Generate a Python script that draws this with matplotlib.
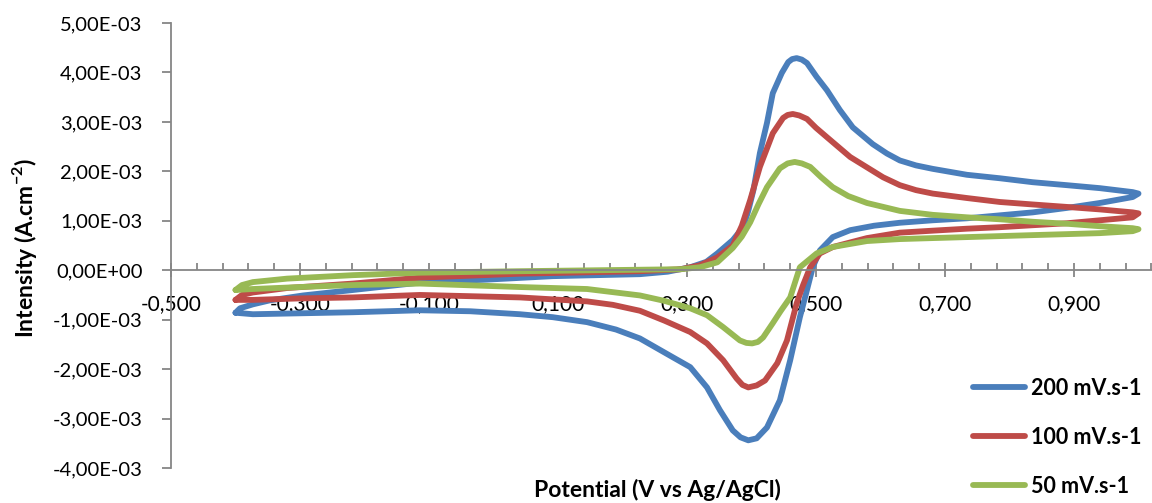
import numpy as np
import matplotlib
matplotlib.use("Agg")
import matplotlib.pyplot as plt
from matplotlib.ticker import MultipleLocator, FuncFormatter

plt.rcParams["font.family"] = ["Lato", "DejaVu Sans"]
plt.rcParams["mathtext.fontset"] = "custom"
plt.rcParams["mathtext.rm"] = "Lato"
plt.rcParams["mathtext.bf"] = "Lato:bold"

# ----- data: potential (V) / current density (mA.cm-2) -----
x_200 = [-0.400, -0.393, -0.373, -0.347, -0.295, -0.218, -0.114, -0.010, 0.092, 0.227, 0.270, 0.305,
         0.330, 0.347, 0.371, 0.387, 0.395, 0.403, 0.413, 0.424, 0.433, 0.447, 0.457, 0.463, 0.470,
         0.478, 0.486, 0.501, 0.517, 0.537, 0.557, 0.588, 0.610, 0.630, 0.655, 0.681, 0.734, 0.785,
         0.836, 0.889, 0.940, 0.991, 1.000,
         0.991, 0.940, 0.889, 0.836, 0.785, 0.734, 0.681, 0.630, 0.590, 0.553, 0.526, 0.506, 0.495,
         0.485, 0.475, 0.460, 0.444, 0.424, 0.408, 0.395, 0.383, 0.371, 0.351, 0.331, 0.305, 0.278,
         0.227, 0.190, 0.145, 0.092, 0.041, -0.036, -0.114, -0.218, -0.295, -0.373, -0.400]
y_200 = [-0.86, -0.77, -0.69, -0.61, -0.51, -0.40, -0.25, -0.19, -0.12, -0.08, -0.03, 0.06,
         0.17, 0.34, 0.61, 0.87, 1.20, 1.62, 2.37, 2.98, 3.58, 3.99, 4.21, 4.27, 4.29,
         4.26, 4.19, 3.91, 3.64, 3.24, 2.89, 2.55, 2.36, 2.22, 2.12, 2.05, 1.93, 1.86,
         1.78, 1.72, 1.66, 1.58, 1.55,
         1.48, 1.36, 1.26, 1.17, 1.11, 1.05, 1.01, 0.96, 0.90, 0.81, 0.67, 0.40, 0.06,
         -0.45, -0.95, -1.82, -2.63, -3.18, -3.40, -3.44, -3.38, -3.24, -2.83, -2.37, -1.96, -1.76,
         -1.38, -1.20, -1.05, -0.95, -0.89, -0.83, -0.81, -0.85, -0.87, -0.89, -0.86]

x_100 = [-0.400, -0.390, -0.373, -0.320, -0.218, -0.114, 0.041, 0.227, 0.290, 0.320, 0.347, 0.371,
         0.385, 0.398, 0.413, 0.433, 0.449, 0.456, 0.464, 0.474, 0.486, 0.500, 0.517, 0.553, 0.604,
         0.630, 0.655, 0.681, 0.734, 0.785, 0.836, 0.889, 0.940, 0.991, 1.000,
         0.991, 0.940, 0.889, 0.836, 0.785, 0.734, 0.681, 0.630, 0.579, 0.526, 0.506, 0.491, 0.480,
         0.470, 0.455, 0.440, 0.421, 0.408, 0.395, 0.386, 0.377, 0.356, 0.331, 0.305, 0.265, 0.227,
         0.185, 0.145, 0.041, -0.114, -0.218, -0.300, -0.373, -0.400]
y_100 = [-0.60, -0.50, -0.45, -0.36, -0.27, -0.15, -0.07, -0.02, 0.02, 0.10, 0.26, 0.50,
         0.90, 1.42, 2.09, 2.77, 3.08, 3.14, 3.16, 3.13, 3.06, 2.88, 2.69, 2.29, 1.88,
         1.72, 1.62, 1.55, 1.46, 1.38, 1.33, 1.28, 1.23, 1.17, 1.15,
         1.07, 1.01, 0.95, 0.91, 0.87, 0.84, 0.80, 0.76, 0.65, 0.47, 0.34, 0.06, -0.30,
         -0.67, -1.42, -1.88, -2.23, -2.33, -2.37, -2.32, -2.19, -1.82, -1.48, -1.25, -1.02, -0.82,
         -0.70, -0.63, -0.55, -0.50, -0.55, -0.57, -0.60, -0.60]

x_50 = [-0.400, -0.390, -0.373, -0.320, -0.218, -0.114, 0.041, 0.227, 0.290, 0.320, 0.347, 0.371,
        0.385, 0.398, 0.411, 0.424, 0.444, 0.456, 0.467, 0.478, 0.491, 0.508, 0.526, 0.550, 0.579,
        0.630, 0.681, 0.734, 0.785, 0.836, 0.889, 0.940, 0.991, 1.000,
        0.991, 0.940, 0.889, 0.836, 0.785, 0.734, 0.681, 0.630, 0.579, 0.526, 0.501, 0.475, 0.460,
        0.445, 0.433, 0.418, 0.410, 0.401, 0.392, 0.382, 0.356, 0.331, 0.305, 0.265, 0.227, 0.145,
        0.041, -0.114, -0.218, -0.300, -0.373, -0.400]
y_50 = [-0.40, -0.30, -0.24, -0.17, -0.10, -0.05, -0.02, 0.01, 0.02, 0.06, 0.16, 0.45,
        0.68, 0.97, 1.34, 1.68, 2.06, 2.16, 2.19, 2.16, 2.09, 1.88, 1.68, 1.50, 1.36,
        1.20, 1.12, 1.07, 1.03, 0.98, 0.94, 0.89, 0.85, 0.83,
        0.79, 0.75, 0.73, 0.71, 0.69, 0.67, 0.65, 0.63, 0.59, 0.47, 0.34, 0.06, -0.55,
        -0.83, -1.07, -1.36, -1.45, -1.48, -1.47, -1.42, -1.15, -0.91, -0.77, -0.62, -0.51, -0.38,
        -0.34, -0.27, -0.30, -0.34, -0.38, -0.40]

series = [
    (x_200, y_200, "200 mV.s-1", "#4A7EBB"),
    (x_100, y_100, "100 mV.s-1", "#BE4B48"),
    (x_50, y_50, "50 mV.s-1", "#98B954"),
]

AXIS_GRAY = "#868686"

fig = plt.figure(figsize=(11.52, 5.03), dpi=100)
ax = fig.add_axes([171 / 1152, 1 - 468 / 503, 1 - 171 / 1152, (468 - 23) / 503])

for xs, ys, label, color in series:
    ax.plot(xs, np.array(ys) * 1e-3, color=color, lw=4.2, label=label,
            solid_capstyle="round", solid_joinstyle="round")

ax.set_xlim(-0.5, -0.5 + (1152 - 171) / 645)
ax.set_ylim(-4e-3, 5e-3)

# ----- axes styling (Excel look) -----
for side in ["top", "right"]:
    ax.spines[side].set_visible(False)
ax.spines["bottom"].set_position(("data", 0))
ax.spines["left"].set_position(("data", -0.5))
for side in ["bottom", "left"]:
    ax.spines[side].set_color(AXIS_GRAY)
    ax.spines[side].set_linewidth(1.3)

ax.xaxis.set_major_locator(MultipleLocator(0.2, offset=0.1))
ax.xaxis.set_minor_locator(MultipleLocator(0.04, offset=0.02))
ax.yaxis.set_major_locator(MultipleLocator(1e-3))
ax.xaxis.set_major_formatter(FuncFormatter(lambda v, p: f"{v:.3f}".replace(".", ",")))
ax.yaxis.set_major_formatter(FuncFormatter(lambda v, p: f"{v:.2E}".replace(".", ",")))

ax.tick_params(axis="x", which="major", direction="inout", length=10, width=1.3,
               color=AXIS_GRAY, labelsize=15, pad=12.5)
ax.tick_params(axis="x", which="minor", direction="in", length=5, width=1.3, color=AXIS_GRAY)
ax.tick_params(axis="y", which="major", direction="out", length=6.5, width=1.3,
               color=AXIS_GRAY, labelsize=14.5, pad=14)

fig.text(657 / 1152, 1 - 490 / 503, "Potential (V vs Ag/AgCl)", fontsize=16.5,
         fontweight="bold", ha="center", va="center")
fig.text(25 / 1152, 1 - 248 / 503, r"Intensity (A.cm$^{\mathbf{-2}}$)", fontsize=16.5,
         fontweight="bold", ha="center", va="center", rotation=90)

leg = ax.legend(loc="upper left", bbox_to_anchor=(973 / 1152, 1 - 378 / 503),
                bbox_transform=fig.transFigure, frameon=False, borderpad=0,
                borderaxespad=0, handlelength=2.4, handletextpad=0.3,
                labelspacing=1.3, prop={"size": 15.5, "weight": "bold"})

fig.savefig("out.png", dpi=100)
